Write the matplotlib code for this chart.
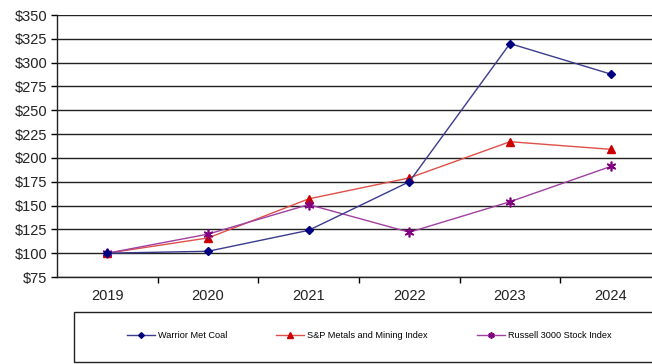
import matplotlib
matplotlib.use("Agg")
import matplotlib.pyplot as plt
from matplotlib.patches import Rectangle

years = ["2019", "2020", "2021", "2022", "2023", "2024"]
warrior = [100, 102, 124, 175, 320, 288]
sp_metals = [100, 116, 157, 179, 217, 209]
russell = [100, 120, 151, 122, 154, 191]
yticks = [75, 100, 125, 150, 175, 200, 225, 250, 275, 300, 325, 350]

plt.rcParams['font.family'] = ['Liberation Sans', 'DejaVu Sans']

fig = plt.figure(figsize=(6.52, 3.64), dpi=100)
ax = fig.add_axes([57/652, 1-277/364, 604/652, 262/364])

x = list(range(len(years)))
ax.plot(x, warrior, color="#3b3b8f", lw=1.0, marker="D", ms=4.5,
        mfc="#000080", mec="#000080", label="Warrior Met Coal", zorder=4)
ax.plot(x, sp_metals, color="#e0504a", lw=1.0, marker="^", ms=6,
        mfc="#cc0000", mec="#cc0000", label="S&P Metals and Mining Index", zorder=3)
ax.plot(x, russell, color="#a040a0", lw=1.0, marker=(6, 2, 0), ms=7,
        mfc="#800080", mec="#800080", mew=1.2, label="Russell 3000 Stock Index", zorder=3)

ax.set_xlim(-0.5, len(years) - 0.5)
ax.set_ylim(75, 350)
ax.set_yticks(yticks)
ax.set_yticklabels([f"${v}" for v in yticks], fontsize=10.5, color="#222222")
ax.set_xticks(x)
ax.set_xticklabels(years, fontsize=10.5, color="#222222")
ax.set_xticks([i + 0.5 for i in range(len(years) - 1)], minor=True)
ax.tick_params(axis="x", which="major", length=0, pad=9)
ax.tick_params(axis="x", which="minor", length=4, direction="out", width=1)
ax.tick_params(axis="y", length=4, direction="out", width=1, pad=3)

ax.yaxis.grid(True, color="#222222", lw=1.0)
ax.set_axisbelow(True)
for s in ["top", "right"]:
    ax.spines[s].set_visible(False)
for s in ["left", "bottom"]:
    ax.spines[s].set_color("#222222")
    ax.spines[s].set_linewidth(1.0)

rect = Rectangle((74/652, 1-362/364), 600/652, 50/364, transform=fig.transFigure,
                 fill=False, edgecolor="#222222", lw=1.0)
fig.patches.append(rect)

handles, labels = ax.get_legend_handles_labels()
leg = fig.legend(handles, labels, loc="center left", bbox_to_anchor=(127/652, 1-336/364),
                 ncol=3, frameon=False, fontsize=6.6, handlelength=3.0,
                 handletextpad=0.33, columnspacing=5.4, markerscale=0.65,
                 borderpad=0, borderaxespad=0)

fig.savefig("out.png", dpi=100)
